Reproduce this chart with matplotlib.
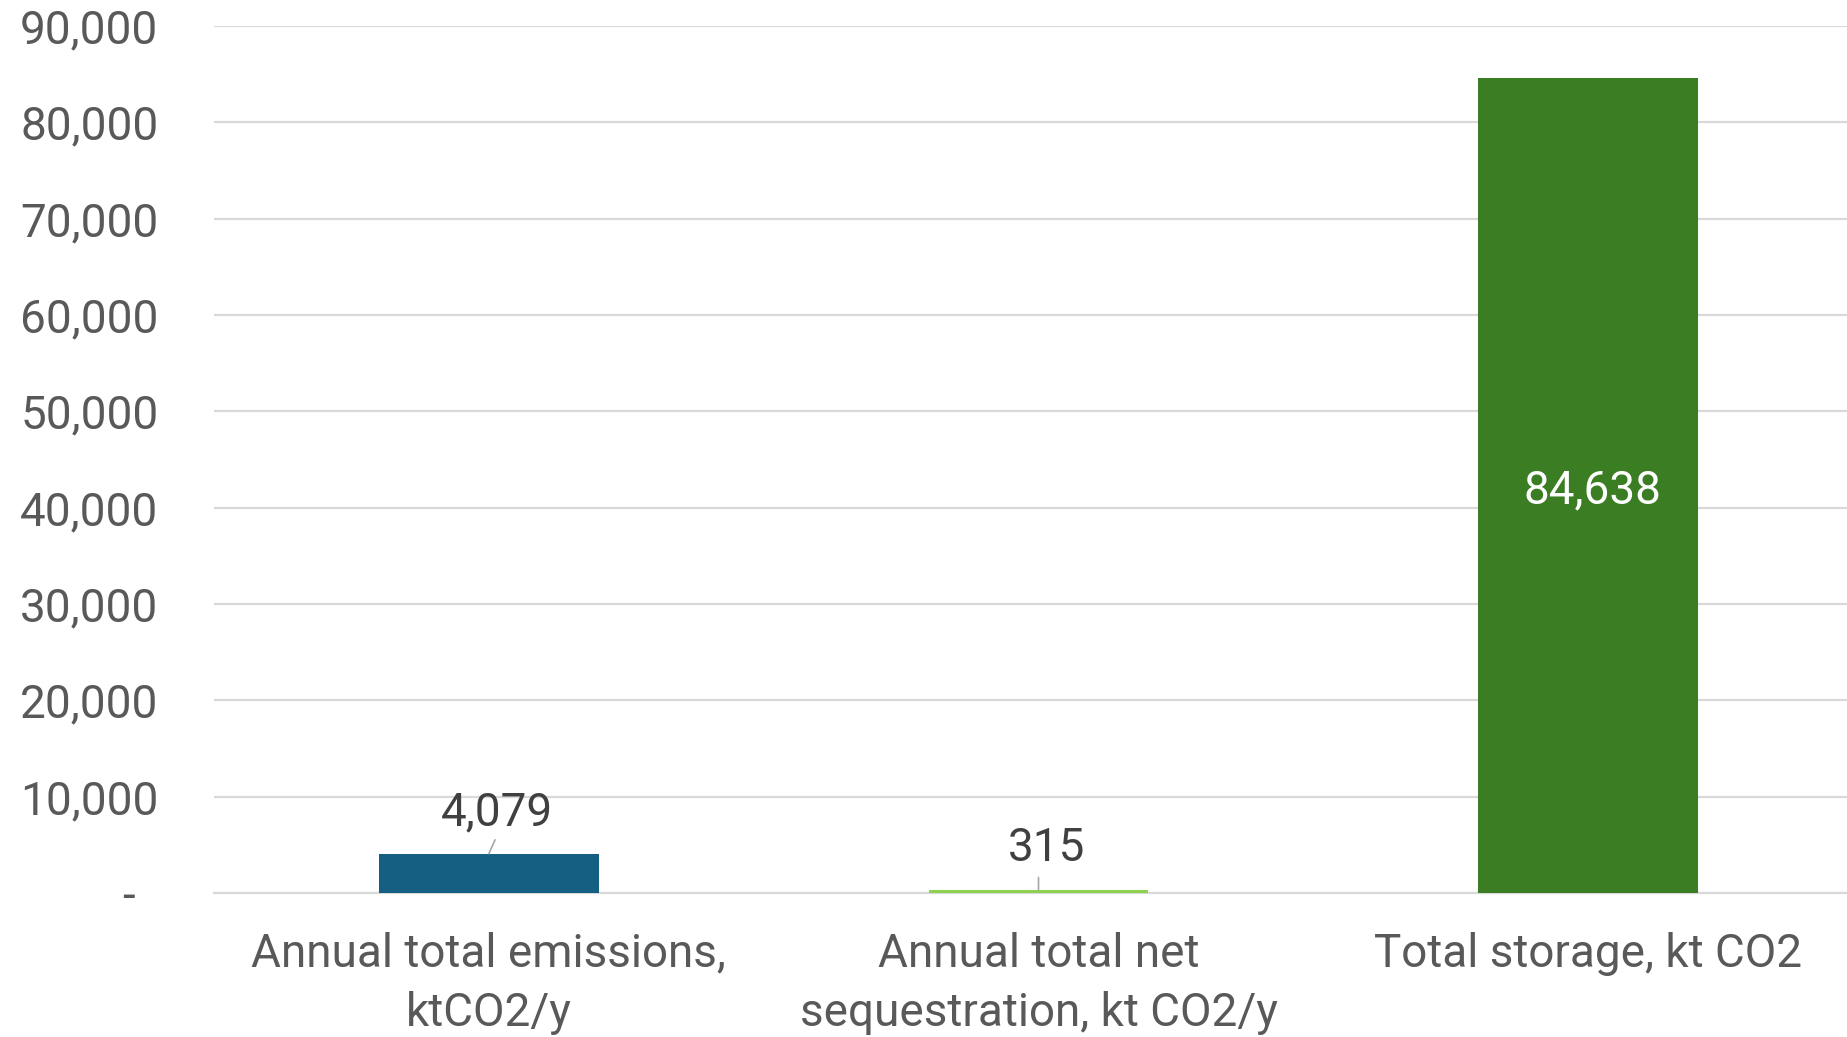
import matplotlib.pyplot as plt
from matplotlib.ticker import FuncFormatter

categories = ["Annual total emissions,\nktCO2/y",
              "Annual total net\nsequestration, kt CO2/y",
              "Total storage, kt CO2"]
values = [4079, 315, 84638]
bar_colors = ["#155F82", "#8ED14F", "#3A7D22"]
yticks = [0, 10000, 20000, 30000, 40000, 50000, 60000, 70000, 80000, 90000]

plt.rcParams["font.family"] = ["Roboto", "DejaVu Sans"]
fs = 33

fig = plt.figure(figsize=(18.47, 10.37), dpi=100)
ax = fig.add_axes([214 / 1847, 1 - 893 / 1037, (1863 - 214) / 1847, (893 - 26) / 1037])

x = list(range(len(categories)))
ax.bar(x, values, width=0.40, color=bar_colors, zorder=3)

ax.set_xlim(-0.5, 2.5)
ax.set_ylim(0, 90000)
ax.set_yticks(yticks)
ax.yaxis.set_major_formatter(FuncFormatter(lambda v, p: "-  " if v == 0 else f"{int(v):,}"))
ax.grid(axis="y", color="#d9d9d9", linewidth=1.6, zorder=0)
ax.tick_params(axis="y", length=0, pad=40, labelsize=fs, labelcolor="#595959")
ax.tick_params(axis="x", length=0, pad=28, labelsize=fs, labelcolor="#595959")
ax.set_xticks(x)
ax.set_xticklabels(categories, linespacing=1.42)
for s in ["top", "right", "left"]:
    ax.spines[s].set_visible(False)
ax.spines["bottom"].set_color("#d9d9d9")
ax.spines["bottom"].set_linewidth(1.6)

# labels for the small bars sit above with a short leader line
leader = [(4.5, 10), (0, 9)]
for i in range(2):
    ax.annotate(f"{values[i]:,}", xy=(x[i], values[i]), xytext=(6, 30),
                textcoords="offset points", ha="center", va="center",
                fontsize=fs, color="#404040")
    ax.annotate("", xy=(x[i], values[i]), xytext=leader[i],
                textcoords="offset points",
                arrowprops=dict(arrowstyle="-", color="#a6a6a6", lw=1.2,
                                shrinkA=0, shrinkB=0))
ax.annotate(f"{values[2]:,}", xy=(x[2], values[2] / 2), xytext=(3, -4),
            textcoords="offset points", ha="center", va="center",
            fontsize=fs, color="white")

plt.savefig("out.png", dpi=100)
